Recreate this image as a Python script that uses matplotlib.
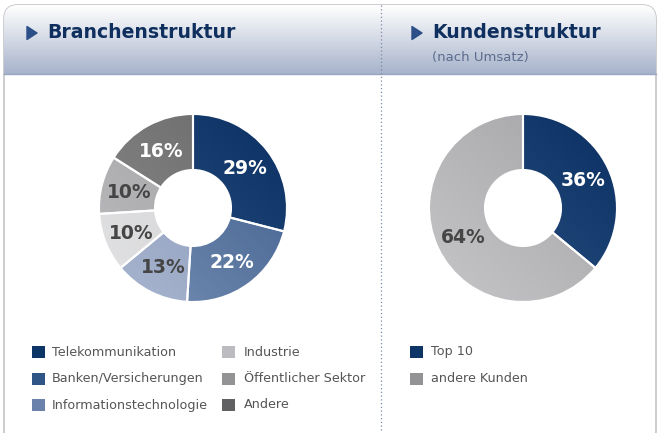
import numpy as np
import matplotlib
matplotlib.use("Agg")
import matplotlib.pyplot as plt
from matplotlib.patches import FancyBboxPatch, Polygon, Rectangle

# data
branchen = ["Telekommunikation", "Banken/Versicherungen", "Informationstechnologie",
            "Industrie", "Öffentlicher Sektor", "Andere"]
branchen_pct = [29, 22, 13, 10, 10, 16]
kunden = ["Top 10", "andere Kunden"]
kunden_pct = [36, 64]

# styles
W, H = 661, 433
b_dark = ["#0b2f62", "#3d5e8d", "#8295b9", "#cfd0d3", "#9c9c9f", "#686868"]
b_light = ["#2e5687", "#7890b4", "#aab6cf", "#e2e2e3", "#bdbdbf", "#8c8c8c"]
b_lbl = ["white", "white", "#454545", "#454545", "#454545", "white"]
k_dark = ["#0b2f62", "#a3a3a5"]
k_light = ["#2e5687", "#c6c6c8"]
k_lbl = ["white", "#454545"]
leg_b = ["#0d3566", "#2f5486", "#6a82ab", "#bcbcc0", "#939396", "#616163"]
leg_k = ["#0d3566", "#939396"]

fig = plt.figure(figsize=(W / 100, H / 100), dpi=100, facecolor="white")
ax = fig.add_axes([0, 0, 1, 1])
ax.set_xlim(0, W)
ax.set_ylim(0, H)
ax.set_aspect("equal")
ax.axis("off")

def Y(y):
    return H - y

# header gradient
grad = np.linspace(0, 1, 100)[:, None]
cmap = matplotlib.colors.LinearSegmentedColormap.from_list("hdr", ["#a7b3cb", "#ffffff"])
box = FancyBboxPatch((4, Y(445)), 652, 440, boxstyle="round,pad=0,rounding_size=14",
                     fc="white", ec="#c4c4c6", lw=1.2, zorder=1)
ax.add_patch(box)
im = ax.imshow(grad, cmap=cmap, extent=[4, 656, Y(74), Y(5)], origin="lower",
               aspect="auto", zorder=2)
im.set_clip_path(box)
ax.plot([4, 656], [Y(74), Y(74)], color="#9aa6bf", lw=1, zorder=3)
ax.plot([381, 381], [Y(5), 0], color="#7a8aa6", lw=0.9, ls=(0, (1, 2)), zorder=3)

# titles
for x0, t in [(27, "Branchenstruktur"), (412, "Kundenstruktur")]:
    ax.add_patch(Polygon([[x0, Y(26.5)], [x0, Y(39.5)], [x0 + 10, Y(33)]], closed=True,
                         fc="#2b4f86", ec="#2b4f86", lw=1, joinstyle="round", zorder=4))
    ax.text(x0 + 20, Y(33), t, fontsize=13.6, fontweight="bold", color="#0f2f5e",
            va="center", ha="left", family="DejaVu Sans", zorder=4)
ax.text(432, Y(57), "(nach Umsatz)", fontsize=9.5, color="#5b6c8c", va="center",
        ha="left", zorder=4)

def donut(cx, cy, vals, dark, light, lblc):
    r = 94
    wedges, _ = ax.pie(vals, center=(cx, Y(cy)), radius=r, startangle=90,
                       counterclock=False, colors=dark,
                       wedgeprops=dict(width=r - 38, edgecolor="white", linewidth=1.5))
    ang0 = 90.0
    tot = float(sum(vals))
    for w, v, c1, c2, lc in zip(wedges, vals, dark, light, lblc):
        w.set_zorder(6)
        cm = matplotlib.colors.LinearSegmentedColormap.from_list("g", [c1, c2])
        xx, yy = np.meshgrid(np.linspace(0, 1, 60), np.linspace(0, 1, 60))
        g = (xx * -1 + 1 + (1 - yy)) / 2
        gi = ax.imshow(g, cmap=cm, extent=[cx - r, cx + r, Y(cy) - r, Y(cy) + r],
                       origin="lower", zorder=5, aspect="auto")
        gi.set_clip_path(w)
        w.set_facecolor("none")
        mid = np.deg2rad(ang0 - 360 * v / tot / 2)
        ang0 -= 360 * v / tot
        rr = 66
        ax.text(cx + rr * np.cos(mid), Y(cy) + rr * np.sin(mid) - 1, f"{v}%",
                ha="center", va="center", fontsize=13.5, fontweight="bold", color=lc, zorder=7)

donut(193, 208, branchen_pct, b_dark, b_light, b_lbl)
donut(523, 208, kunden_pct, k_dark, k_light, k_lbl)
ax.set_xlim(0, W)
ax.set_ylim(0, H)

# legends
def legend(x0, tx, names, cols):
    for i, (n, c) in enumerate(zip(names, cols)):
        y = 352 + i * 26.5
        ax.add_patch(Rectangle((x0, Y(y) - 6), 13, 12, fc=c, ec="none", zorder=4))
        ax.text(tx, Y(y), n, fontsize=9.2, color="#555555", va="center", ha="left", zorder=4)

legend(32, 52, branchen[:3], leg_b[:3])
legend(222, 244, branchen[3:], leg_b[3:])
legend(410, 431, kunden, leg_k)

fig.savefig("out.png", dpi=100, facecolor="white")
